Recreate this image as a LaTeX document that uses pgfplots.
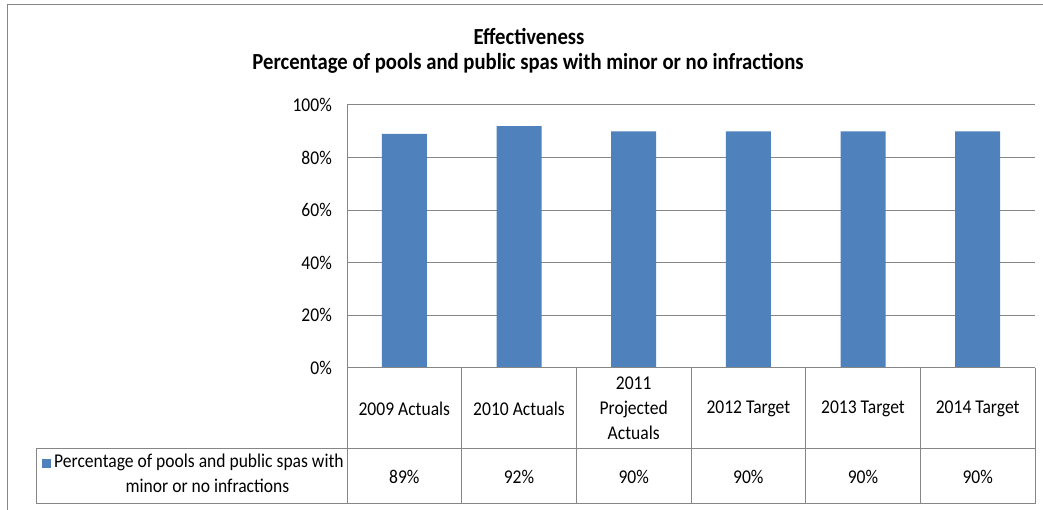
\documentclass[border=0pt]{standalone}
\usepackage{fontspec}
\setmainfont{Carlito}[FakeStretch=0.9]
\usepackage{pgfplots}
\usepackage{pgfplotstable}
\pgfplotsset{compat=1.18}

\definecolor{barblue}{RGB}{79,129,189}
\definecolor{linegray}{RGB}{134,134,134}

% share of pools and public spas with minor or no infractions (%)
\pgfplotstableread{
x val
0 89
1 92
2 90
3 90
4 90
5 90
}\effdata

\newcommand{\tabfont}{\fontsize{19.5}{25}\selectfont}

\begin{document}
\begin{tikzpicture}[x=1pt,y=1pt]
\useasboundingbox (0,0) rectangle (1043,510);
% chart frame
\draw[linegray, line width=1pt] (7,0) -- (7,505) -- (1043,505);

% title
\node[anchor=base, inner sep=0pt, font=\bfseries\fontsize{23}{27}\selectfont] at (529,465) {Effectiveness};
\node[anchor=base, inner sep=0pt, font=\bfseries\fontsize{23}{27}\selectfont] at (528,440) {Percentage of pools and public spas with minor or no infractions};

\begin{axis}[
  at={(347pt,142pt)}, anchor=south west,
  scale only axis, width=688pt, height=263pt,
  xmin=-0.5, xmax=5.5, ymin=0, ymax=100,
  clip=false,
  axis line style={draw=none},
  major tick length=0pt,
  ytick={0,20,...,100},
  yticklabel={\pgfmathprintnumber{\tick}\%},
  ymajorgrids,
  grid style={linegray, line width=1pt},
  xtick={0,...,5},
  xticklabels={2009 Actuals, 2010 Actuals, {2011\\Projected\\Actuals}, 2012 Target, 2013 Target, 2014 Target},
  /pgf/number format/assume math mode=true,
  tick label style={font=\tabfont, text=black},
  yticklabel style={anchor=east, inner sep=0pt, xshift=-15pt},
  xticklabel style={anchor=center, inner sep=0pt, yshift=-40.5pt, align=center},
]
\addplot[ybar, bar width=45pt, fill=barblue, draw=none] table[x=x, y=val] {\effdata};
% value row of the data table
\addplot[draw=none, mark=none, forget plot,
  point meta=explicit,
  nodes near coords={\pgfmathprintnumber{\pgfplotspointmeta}\%},
  nodes near coords align=center,
  every node near coord/.append style={font=\tabfont, inner sep=0pt, anchor=center}]
  table[x=x, y expr=-41.25, meta=val] {\effdata};
\end{axis}

% data table grid
\begin{scope}[linegray, line width=1pt]
\draw (347,142) -- (347,405);
\draw (347,142) -- (1035,142);
\draw (36,61) -- (1035,61);
\draw (36,6) -- (1035,6);
\draw (36,61) -- (36,6);
\foreach \xx in {347,461.7,576.3,691,805.7,920.3,1035} {
  \draw (\xx,142) -- (\xx,6);
}
\end{scope}

% series key in the table's row header
\node[anchor=base west, inner sep=0pt, font=\tabfont] at (42,42)
  {\textcolor{barblue}{\rule{9pt}{9pt}}\hspace{3pt}Percentage of pools and public spas with};
\node[anchor=base, inner sep=0pt, font=\tabfont] at (207.5,17) {minor or no infractions};
\end{tikzpicture}
\end{document}
